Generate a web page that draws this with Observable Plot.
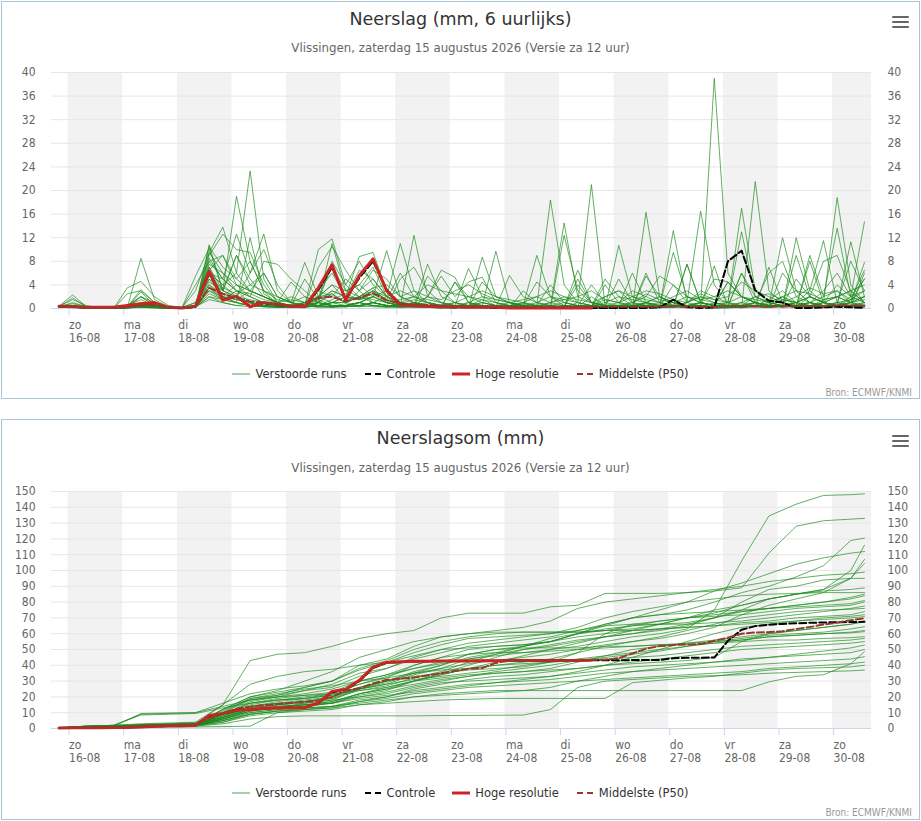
<!DOCTYPE html>
<html lang="nl">
<head>
<meta charset="utf-8">
<script src="https://cdn.jsdelivr.net/npm/d3@7"></script>
<script src="https://cdn.jsdelivr.net/npm/@observablehq/plot@0.6"></script>
<style>
  html, body { margin: 0; padding: 0; background: #fff; }
  body { width: 921px; height: 821px; position: relative; overflow: hidden;
         font-family: "DejaVu Sans", "Liberation Sans", sans-serif; }
  svg { font-stretch: condensed; }
  .panel { position: absolute; left: 1px; width: 919px; box-sizing: border-box; border: 1px solid #aac4d6; background: #fff; }
  .title { position: absolute; left: 0; width: 921px; text-align: center; font-size: 17.5px; line-height: 20px; color: #333; }
  .sub { position: absolute; left: 0; width: 921px; text-align: center; font-size: 11.8px; line-height: 16px; color: #666; }
  .bar { position: absolute; left: 892px; width: 17px; height: 2.4px; background: #666; border-radius: 1px; }
  .chart { position: absolute; left: 0; }
  .legend { position: absolute; left: 0; width: 921px; height: 16px; display: flex; justify-content: center; gap: 17px; font-size: 11.5px; line-height: 16px; color: #333; }
  .item { display: flex; align-items: center; gap: 5px; white-space: nowrap; }
  .item svg { display: block; }
  .bron { position: absolute; right: 9px; font-size: 10px; line-height: 12px; color: #999; font-stretch: condensed; }
</style>
</head>
<body>
<div class="panel" style="top:1px;height:398px"></div>
<div class="panel" style="top:419px;height:401px"></div>

<div class="title" style="top:9px">Neerslag (mm, 6 uurlijks)</div>
<div class="sub" style="top:40px">Vlissingen, zaterdag 15 augustus 2026 (Versie za 12 uur)</div>
<div class="bar" style="top:16px"></div><div class="bar" style="top:21px"></div><div class="bar" style="top:26px"></div>
<div id="c1" class="chart" style="top:60px"></div>
<div id="lg1" class="legend" style="top:366px"></div>
<div class="bron" style="top:387px">Bron: ECMWF/KNMI</div>

<div class="title" style="top:428px">Neerslagsom (mm)</div>
<div class="sub" style="top:460px">Vlissingen, zaterdag 15 augustus 2026 (Versie za 12 uur)</div>
<div class="bar" style="top:435px"></div><div class="bar" style="top:440px"></div><div class="bar" style="top:445px"></div>
<div id="c2" class="chart" style="top:479px"></div>
<div id="lg2" class="legend" style="top:785px"></div>
<div class="bron" style="top:807px">Bron: ECMWF/KNMI</div>

<script>
// ---------- categories / ticks ----------
const dayNames  = ["zo","ma","di","wo","do","vr","za","zo","ma","di","wo","do","vr","za","zo"];
const dayDates  = ["16-08","17-08","18-08","19-08","20-08","21-08","22-08","23-08","24-08","25-08","26-08","27-08","28-08","29-08","30-08"];
const dayStartHours = [0,24,48,72,96,120,144,168,192,216,240,264,288,312,336];
const shadedDays = [[0,24],[48,72],[96,120],[144,168],[192,216],[240,264],[288,312],[336,360]];
const yTicksTop = [0,4,8,12,16,20,24,28,32,36,40];
const yTicksSum = [0,10,20,30,40,50,60,70,80,90,100,110,120,130,140,150];
const legendNames = ["Verstoorde runs","Controle","Hoge resolutie","Middelste (P50)"];

// hours relative to 16-08 00:00 (6-hourly and 12-hourly steps)
const hours6 = [-4,2,8,14,20,26,32,38,44,50,56,62,68,74,80,86,92,98,104,110,116,122,128,134,140,146,152,158,164,170,
  176,182,188,194,200,206,212,218,224,230,236,242,248,254,260,266,272,278,284,290,296,302,308,314,320,326,332,338,344,350];
const hours12 = [-4,8,20,32,44,56,68,80,92,104,116,128,140,152,164,176,188,200,212,224,236,248,260,272,284,296,308,320,332,344,350];

// ---------- 6-hourly precipitation (mm) ----------
const hresTop = [0.4, 0.3,0.2,0.2,0.2, 0.5,0.8,1.0,0.2, 0.1,0.4,6.3,1.4, 2.1,0.3,1.0,0.7, 0.4,0.3,3.5,7.4,
  1.4,5.6,8.4,3.0, 0.6,0.5,0.4,0.3, 0.3,0.2,0.2,0.2, 0.1,0.1,0.1,0.1, 0.1,0.1,0.1];
const controlTop = [0.4, 0.3,0.2,0.2,0.1, 0.4,0.7,0.9,0.2, 0.1,0.3,6.0,1.5, 2.0,0.4,0.9,0.6, 0.4,0.3,3.2,7.0,
  1.6,5.2,8.0,3.2, 0.7,0.5,0.4,0.3, 0.2,0.2,0.2,0.1, 0.1,0.1,0.1,0.1, 0.1,0.1,0.1,0.1, 0.1,0.1,0.1,0.2,
  1.5,0.2,0.1,0.2, 8.0,9.8,3.1,1.3, 1.0,0.1,0.1,0.2, 0.3,0.2,0.1];
const p50Top = [0.3, 0.3,0.1,0.1,0.1, 0.2,0.5,0.6,0.3, 0.1,0.3,3.5,2.5, 1.8,1.2,1.0,0.6, 0.5,0.6,1.8,2.0,
  1.2,1.8,2.6,1.4, 0.8,0.7,0.6,0.5, 0.4,0.4,0.4,0.4, 0.3,0.3,0.3,0.3, 0.3,0.3,0.3,0.3, 0.3,0.3,0.3,0.3,
  0.4,0.3,0.3,0.3, 0.4,0.4,0.4,0.3, 0.4,0.4,0.4,0.4, 0.5,0.5,0.5];
const runsTop = [
 [0.4, 2.3,0.3,0,0, 0.2,0.5,0.3,0, 0,0.2,10.8,3.0, 19.0,8.0,3.0,0.5, 0.2,0.5,2.0,4.0, 1.5,2.0,3.5,1.0, 0.5,0.3,0.2,0.1, 0,0.5,1.5,0.5, 0.2,0,0.3,1.0, 0.5,0.2,0,0, 0,0.3,1.0,2.0, 0.5,0.3,0.2,0, 0.1,0.5,2.0,1.0, 0.5,0.2,0.3,1.5, 2.0,1.0,0.5],
 [0.3, 1.8,0.2,0,0.1, 0.3,3.2,1.0,0.2, 0,0.5,6.0,4.0, 6.0,23.3,5.0,1.0, 0.5,0.2,1.0,2.5, 0.8,3.0,5.0,2.0, 0.5,1.0,0.5,0.2, 0.3,0.2,0.5,0.3, 0,0.1,0.5,0.2, 0.3,4.0,1.0,0.5, 0.2,0.5,0.8,0.3, 0.2,0.3,1.0,0.5, 4.5,2.0,1.0,0.5, 0.3,0.5,1.0,3.0, 6.0,2.0,5.0],
 [0.5, 0.5,0.1,0,0, 0.1,8.5,1.5,0.3, 0,0.2,9.5,13.8, 6.0,3.0,2.0,1.0, 0.5,1.0,0.5,1.0, 2.0,1.5,2.5,1.0, 0.5,0.5,0.3,0.2, 0.2,1.0,0.5,0.2, 0.5,0.2,0,0.1, 0.2,0.3,2.0,0.5, 0.5,1.0,2.5,1.5, 1.0,0.5,0.2,0.3, 0.3,0.1,0.5,1.0, 2.0,0.5,1.0,0.5, 1.0,0.5,0.3],
 [0.3, 0.3,0.2,0.1,0, 0.5,2.0,1.0,0.2, 0.1,0.3,8.0,5.0, 12.6,6.0,12.6,3.0, 1.0,0.5,0.2,0.5, 0.5,1.0,2.0,3.0, 1.0,0.5,0.5,0.3, 0.5,0.3,0.2,0.5, 1.0,0.5,0.2,0.2, 0.1,0,0.5,2.0, 3.0,1.0,0.5,0.2, 0.3,0.2,0.5,0.8, 1.0,0.5,0.3,0.2, 0.5,1.0,2.0,1.0, 0.5,1.5,6.5],
 [0.4, 1.5,0.5,0.1,0, 3.5,4.6,2.0,0.5, 0.2,1.0,7.0,2.0, 1.0,12.0,2.5,1.0, 0.3,0.2,3.0,6.0, 2.0,1.5,3.0,1.5, 0.8,1.5,1.0,0.5, 0.3,0.5,1.0,0.5, 0.3,0.8,0.5,0.2, 0.5,0.2,0.3,0.5, 1.0,0.5,0.5,0.3, 13.2,1.0,2.0,1.0, 0.5,0.3,1.0,0.5, 0.2,0.5,1.0,0.3, 0.5,1.0,2.0],
 [0.3, 0.2,0.1,0,0, 0.2,2.8,0.5,0.1, 0.1,5.5,10.2,3.0, 9.0,4.0,6.0,2.0, 1.0,0.5,1.0,11.0, 3.0,4.0,2.0,1.0, 0.5,0.3,0.2,0.1, 0.5,6.8,2.0,1.0, 0.5,0.3,0.2,0, 0.2,1.0,21.0,0.5, 0.3,0.2,0.5,1.0, 0.5,0.2,0.3,1.0, 0.5,0.3,0.5,1.5, 3.0,1.0,0.5,0.5, 0.3,0.5,1.0],
 [0.3, 0.3,0.2,0.1,0, 0.1,0.5,0.2,0.1, 0,0.3,9.0,12.6, 10.0,9.5,4.0,1.0, 0.5,0.2,0.5,1.0, 2.0,8.8,9.5,3.0, 1.0,0.5,0.3,0.2, 0.2,0.3,0.2,0.1, 0.1,0.2,0.3,0.5, 14.5,2.0,1.0,0.5, 0.3,0.2,0.1,0.3, 0.5,1.0,3.0,2.0, 1.0,17.0,3.0,1.0, 0.5,0.3,0.2,1.0, 2.0,3.0,1.0],
 [0.4, 0.8,0.3,0,0, 0.2,2.0,0.5,0.2, 0.1,4.0,8.0,9.0, 4.0,2.0,8.0,7.5, 5.0,3.0,1.0,0.5, 0.5,1.0,2.0,9.8, 2.0,1.0,0.5,0.3, 0.2,0.1,0.5,9.7, 1.0,0.5,0.3,0.2, 0.1,0.3,0.5,0.2, 0.3,0.5,1.0,2.0, 1.0,0.5,0.3,0.2, 0.1,0.2,0.5,0.3, 0.5,1.0,3.0,11.5, 1.0,0.5,0.5],
 [0.3, 0.2,0.1,0,0, 0.1,0.3,0.2,0, 0,0.5,7.0,3.0, 2.0,6.0,10.0,4.0, 1.0,7.8,2.0,1.0, 0.5,0.3,1.0,2.0, 11.0,3.0,1.0,0.5, 0.3,0.2,8.7,2.0, 1.0,0.3,0.2,0.1, 0.2,0.3,0.5,0.3, 0.2,0.5,0.3,0.2, 0.5,7.5,1.0,0.5, 0.3,0.2,0.3,0.5, 12.0,3.0,1.0,0.5, 0.5,0.3,0.2],
 [0.5, 0.4,0.2,0.1,0, 0.3,1.0,0.3,0.1, 0,0.2,6.0,5.0, 3.0,2.0,1.0,0.5, 0.3,0.5,10.0,11.8, 4.0,2.0,1.0,0.5, 0.5,12.4,2.0,1.0, 0.5,0.3,0.2,0.3, 0.5,1.0,0.5,0.2, 0.3,0.2,0.1,0.2, 0.3,0.2,16.3,2.0, 1.0,0.5,0.3,0.2, 0.3,0.5,1.0,0.5, 0.3,0.2,0.5,1.0, 18.8,4.0,1.0],
 [0.3, 0.3,0.1,0,0, 0.2,0.5,0.3,0.1, 0,0.3,5.0,2.0, 1.0,0.5,0.3,0.2, 0.5,1.0,0.5,0.3, 0.5,1.0,0.5,0.3, 0.2,0.3,0.5,0.3, 0.2,0.5,1.0,0.5, 0.3,0.2,0.5,18.4, 4.0,1.0,0.5,0.3, 0.2,0.5,1.0,0.5, 0.3,0.2,0.5,39.0, 6.0,2.0,1.0,0.5, 0.3,0.5,1.0,2.0, 3.0,1.0,0.5],
 [0.4, 0.5,0.3,0.1,0, 0.2,0.4,0.2,0.1, 0.1,1.0,4.0,2.0, 1.5,3.0,6.0,2.0, 1.0,0.5,7.0,10.5, 6.5,3.0,1.0,0.5, 0.3,0.5,7.5,2.0, 1.0,0.5,0.3,0.2, 0.1,0.5,9.0,2.0, 0.5,0.3,0.2,0.1, 10.7,2.0,1.0,0.5, 0.3,1.0,16.5,4.0, 1.0,0.5,0.3,0.2, 0.5,1.0,2.0,1.0, 0.5,2.0,14.7],
 [0.3, 0.2,0.1,0,0, 0.5,1.5,0.5,0.2, 0,0.2,3.0,1.5, 2.0,1.0,0.5,0.3, 0.2,0.3,1.5,3.0, 2.0,6.5,5.0,2.0, 1.0,0.5,2.0,6.5, 5.3,1.0,0.5,0.3, 5.6,2.0,1.0,0.5, 0.3,0.2,0.5,0.3, 0.5,6.0,1.0,0.5, 0.3,0.5,1.0,0.5, 0.3,0.2,21.5,3.0, 1.0,0.5,0.3,0.5, 1.0,1.5,3.0],
 [0.4, 0.3,0.2,0,0, 0.3,0.8,0.4,0.1, 0,0.3,10.5,7.0, 5.0,3.0,2.0,1.0, 0.5,0.3,0.5,1.0, 1.0,2.0,3.0,1.5, 6.0,2.0,1.0,0.5, 0.3,0.5,0.3,0.2, 0.3,0.2,0.3,0.5, 0.2,6.5,1.0,0.5, 0.3,0.2,0.5,0.3, 0.5,0.3,0.2,0.5, 1.0,13.0,2.0,1.0, 0.5,0.3,9.0,2.0, 13.6,2.0,1.0],
 [0.3, 0.3,0.1,0,0, 0.2,0.6,0.3,0.1, 0,0.2,2.0,1.0, 0.5,0.8,0.5,0.3, 0.2,0.5,0.3,0.2, 0.3,0.5,1.0,0.5, 0.3,0.2,0.5,0.3, 0.2,0.3,0.5,0.3, 0.2,0.1,0.2,0.3, 0.2,0.5,0.3,0.2, 0.3,0.5,0.2,0.3, 0.5,0.3,0.5,7.2, 0.3,0.2,0.3,0.2, 0.3,0.5,0.3,0.2, 0.3,0.5,0.3],
 [0.4, 0.5,0.3,0.1,0, 2.5,3.0,1.0,0.2, 0.1,0.5,6.5,9.0, 5.0,8.0,3.0,2.0, 1.0,0.5,2.0,7.0, 3.0,4.0,7.0,2.0, 1.0,0.5,0.3,0.2, 4.5,2.0,1.0,0.5, 0.3,0.5,4.5,2.0, 1.0,0.5,0.3,0.2, 0.5,1.0,2.0,5.5, 4.0,2.0,1.0,0.5, 0.3,0.5,1.0,0.5, 2.0,1.0,0.5,0.3, 0.5,1.0,5.0],
 [0.3, 0.2,0.1,0,0, 0.1,0.3,0.2,0, 0,0.3,4.5,3.0, 9.0,5.0,2.0,1.0, 4.5,2.0,1.0,0.5, 0.5,1.0,2.0,1.0, 0.5,0.3,0.2,0.1, 0.1,0.2,0.3,0.2, 0.1,3.0,1.0,0.5, 0.3,0.5,4.0,1.0, 0.5,0.3,0.2,0.1, 0.3,0.5,1.0,0.5, 4.5,2.0,1.0,0.5, 0.3,12.0,3.0,1.0, 0.5,1.0,7.8],
 [0.5, 0.3,0.2,0,0, 0.2,0.5,0.3,0.1, 0,0.3,8.5,5.0, 3.0,2.0,1.0,0.5, 0.5,1.0,3.0,2.0, 5.0,3.0,6.5,5.0, 2.0,1.0,0.5,0.3, 0.5,0.3,0.2,0.1, 0.5,0.3,0.2,0.1, 12.4,3.0,1.0,0.5, 0.3,0.2,0.5,0.3, 0.2,7.5,1.0,0.5, 0.3,0.5,0.3,7.0, 1.0,0.5,0.3,0.2, 0.5,11.3,2.0],
 [0.3, 0.2,0.1,0,0, 0.1,0.2,0.1,0, 0,0.2,3.5,1.5, 1.0,0.5,0.3,0.2, 0.2,0.5,1.0,0.5, 0.3,0.5,1.0,0.5, 0.5,1.0,0.5,0.3, 4.5,1.0,0.5,0.3, 0.2,0.5,0.3,0.2, 0.5,0.3,0.2,4.0, 1.0,0.5,0.3,0.2, 0.3,0.5,0.3,0.2, 0.5,1.0,0.5,0.3, 0.5,0.3,0.5,0.3, 0.5,0.3,0.5],
 [0.4, 0.4,0.2,0,0, 0.3,1.0,0.5,0.2, 0.2,0.5,5.5,3.0, 2.0,1.5,1.0,0.5, 0.3,0.5,1.0,8.0, 4.0,8.0,4.0,2.0, 1.0,0.5,2.0,5.5, 2.0,4.5,5.3,1.0, 0.5,0.3,0.2,0.1, 0.2,0.5,0.3,0.2, 0.5,0.3,0.2,0.5, 9.5,2.0,1.0,0.5, 0.3,0.2,0.5,0.3, 0.5,0.3,2.0,8.0, 9.0,3.0,1.0],
 [0.3, 0.3,0.2,0.1,0, 0.1,0.4,0.2,0.1, 0,0.3,7.5,6.0, 4.0,3.0,2.0,1.0, 0.5,0.3,0.5,0.3, 0.3,0.5,1.0,0.5, 5.0,7.0,3.0,1.0, 0.5,0.3,0.2,0.2, 0.3,0.5,0.3,0.2, 0.3,5.0,1.0,0.5, 0.3,0.2,5.5,2.0, 1.0,0.5,0.3,0.2, 0.2,0.3,0.5,0.3, 6.0,3.0,1.0,0.5, 0.5,1.0,2.0],
 [0.4, 0.3,0.1,0,0, 0.2,0.5,0.2,0.1, 0,0.3,6.0,4.0, 2.0,1.0,0.8,0.5, 0.3,0.2,0.5,1.0, 1.0,0.5,1.0,0.5, 0.5,0.3,0.2,0.5, 1.0,0.5,0.3,0.2, 0.3,0.2,0.5,0.3, 0.3,0.2,0.5,0.3, 5.0,1.0,0.5,0.3, 0.3,0.5,1.0,5.0, 4.5,2.0,1.0,0.5, 0.5,9.0,2.0,1.0, 0.5,0.3,6.0],
 [0.3, 0.2,0.1,0,0, 0.2,0.3,0.2,0, 0,0.2,3.0,2.0, 1.5,1.0,0.5,0.3, 0.2,0.3,0.5,0.3, 0.5,1.0,0.5,0.3, 0.2,0.3,5.5,3.0, 1.0,0.5,0.3,0.2, 0.2,0.3,0.2,0.5, 1.0,0.5,0.3,0.2, 0.3,0.5,0.3,0.2, 0.5,0.3,0.5,0.3, 0.5,6.0,2.0,1.0, 0.5,0.3,0.5,0.3, 1.0,8.0,3.0],
 [0.5, 0.3,0.2,0,0, 0.3,2.0,0.5,0.2, 0.1,3.0,9.5,6.0, 3.0,1.0,0.5,0.3, 0.5,1.0,2.0,4.0, 3.0,2.0,1.5,1.0, 0.5,1.0,0.5,0.3, 0.3,0.5,0.3,0.2, 0.2,0.3,0.5,0.3, 0.3,0.2,0.5,0.3, 0.5,0.3,0.2,0.3, 4.0,1.0,0.5,0.3, 0.3,0.5,1.0,6.0, 8.0,2.0,1.0,0.5, 0.3,0.5,1.0],
 [0.3, 1.0,0.3,0,0, 0.2,0.5,0.3,0.1, 0,0.2,2.5,1.5, 1.0,0.5,0.3,0.2, 0.3,0.5,1.0,0.5, 0.3,0.5,0.3,0.2, 0.5,0.3,0.2,0.1, 0.3,0.5,0.5,0.3, 0.5,0.3,0.5,4.0, 1.0,0.5,0.3,5.0, 2.0,0.5,0.3,0.2, 0.3,0.5,0.5,0.3, 0.5,0.3,0.5,0.3, 0.5,5.0,2.0,1.0, 0.5,0.3,0.5],
 [0.4, 0.3,0.1,0,0, 0.3,0.5,0.3,0.1, 0,0.3,4.0,2.5, 1.5,1.0,0.5,0.3, 0.5,5.0,1.5,0.5, 0.5,0.3,0.5,0.3, 0.3,0.5,1.0,0.5, 0.3,0.2,4.5,2.0, 1.0,0.5,0.3,0.2, 0.5,0.3,0.2,0.3, 0.5,0.3,6.0,1.0, 0.5,0.3,0.2,0.3, 0.3,6.0,1.0,0.5, 0.3,0.5,8.0,1.0, 0.5,0.3,0.5],
 [0.3, 0.2,0.1,0,0, 0.1,0.3,0.2,0.1, 0,0.5,5.0,3.5, 2.5,4.0,3.0,1.5, 1.0,2.0,1.0,3.0, 2.0,1.5,3.0,2.0, 3.0,2.0,4.0,3.0, 2.5,2.0,3.0,2.0, 1.5,1.0,2.0,3.0, 2.0,1.5,1.0,2.0, 3.0,2.0,1.5,1.0, 2.0,3.0,1.5,2.0, 3.0,2.0,1.5,1.0, 2.0,3.0,2.5,1.5, 2.0,3.0,4.0],
 [0.4, 0.3,0.2,0,0, 0.2,0.5,0.3,0.1, 0.1,0.3,3.5,2.0, 4.0,3.0,2.0,1.0, 1.5,1.0,2.0,2.5, 1.0,2.0,3.5,4.0, 2.0,3.0,2.0,1.5, 3.0,4.0,2.5,1.5, 1.0,1.5,2.0,1.0, 1.5,2.0,3.0,1.5, 1.0,2.0,3.0,2.5, 1.5,1.0,2.0,1.5, 2.0,4.5,3.0,2.0, 1.0,2.0,3.5,2.5, 3.0,1.5,2.0],
 [0.3, 0.2,0.1,0,0, 0.2,0.3,0.2,0.1, 0,0.2,2.0,1.5, 3.0,2.5,1.5,1.0, 2.0,1.0,0.5,1.5, 2.5,1.5,2.0,1.0, 1.5,2.0,1.0,0.5, 1.0,2.0,1.5,1.0, 0.5,1.0,0.5,1.0, 2.0,1.0,0.5,1.5, 1.0,3.0,2.0,1.0, 0.5,1.0,2.5,1.5, 1.0,2.0,1.0,0.5, 1.5,1.0,2.0,1.0, 4.0,2.0,3.0],
 [0.4, 0.3,0.2,0.1,0, 0.1,0.2,0.1,0, 0,0.3,1.5,1.0, 0.5,0.3,0.5,0.3, 0.2,0.5,0.3,0.2, 0.5,1.0,0.5,0.3, 1.0,2.0,1.5,1.0, 0.5,1.0,2.0,1.5, 1.0,0.5,1.0,2.0, 1.5,1.0,0.5,1.0, 2.0,1.5,1.0,0.5, 1.0,2.0,1.5,1.0, 0.5,1.0,2.0,2.5, 1.5,1.0,0.5,1.0, 2.0,1.0,1.5]
];

// ---------- accumulated precipitation (mm) ----------
const hresSum = [0.3, 0.4,0.5,0.5,0.6, 0.7,1.0,1.5,1.7, 1.7,2.0,8.3,9.5, 11.7,12.0,12.8,13.0, 13.1,13.2,16.2,23.5,
  24.9,30.5,38.8,41.8, 42.2,42.5,42.6,42.7, 42.8,42.8,42.9,42.9, 43.0,43.0,43.0,43.1, 43.1,43.1,43.2];
const controlSum = [0.3, 0.4,0.5,0.5,0.6, 0.7,1.0,1.4,1.6, 1.7,2.0,8.0,9.4, 11.5,11.9,12.7,13.0, 13.1,13.2,16.0,23.0,
  24.6,30.0,38.2,41.5, 42.0,42.4,42.6,42.7, 42.8,42.8,42.9,42.9, 43.0,43.0,43.0,43.1, 43.1,43.1,43.2,43.2,
  43.2,43.3,43.3,43.4, 44.5,44.7,44.8,44.9, 55.5,62.5,64.8,65.7, 66.2,66.6,66.9,67.1, 67.3,67.4,67.5];
const p50Sum = [0.3, 0.5,0.6,0.7,0.8, 1.0,1.5,2.0,2.2, 2.3,2.6,6.5,9.5, 12.5,13.8,14.8,15.5, 16.2,16.8,17.8,20.0,
  24.0,25.5,28.5,30.8, 31.5,32.3,33.5,35.0, 36.5,37.8,38.2,41.5, 43.0,43.1,43.2,43.3, 43.3,43.4,43.4,43.5,
  44.5,47.5,50.5,52.2, 52.8,53.2,53.5,55.5, 57.5,60.0,60.8,61.0, 61.5,63.0,64.2,65.8, 67.0,68.5,69.8];
const runsSum = [
 [0.3, 1.0,1.5, 2.0,2.2, 2.5,12, 18,20, 22,25, 30,34, 38,41, 44,46, 48,50, 52,55, 58,60, 63,75, 106,134.5, 142,147.5, 148,148.5],
 [0.3, 1.5,2, 3,3.5, 4,15, 43,47, 48,52, 57,60, 62,70, 73,73, 73,77, 78,85.5, 85.5,85.5, 86,87, 89,111, 128,131.5, 132.5,133],
 [0.3, 1,1.2, 1.8,2, 2.3,8, 14,17, 19,22, 28,33, 38,42, 47,50, 52,55, 60,66, 70,72, 75,80, 86,90, 96,103, 119,120.5],
 [0.3, 0.8,1.0, 1.5,1.8, 2,6, 12,14, 15,17, 22,25, 30,35, 40,45, 50,52, 55,58, 60,62, 65,70, 75,82, 85,88, 100,116],
 [0.4, 1.5,2, 9,9.5, 10,16, 22,25, 27,30, 37,42, 48,53, 57,58, 59,60, 62,65, 70,75, 80,87, 92,98, 104,108, 111,112],
 [0.3, 1,1.3, 2,2.3, 2.8,7, 12,15, 17,20, 25,30, 33,35, 37,38, 39,42, 48,60, 66,68, 70,73, 78,82, 85,88, 95,107],
 [0.3, 1,1.2, 1.5,1.7, 2,9, 16,18, 19,21, 26,30, 35,38, 41,43, 45,47, 50,53, 55,57, 60,64, 72,78, 82,86, 95,104.5],
 [0.4, 1.2,1.5, 2,2.5, 3,11, 19,21, 24,28, 35,38, 45,50, 51,52, 53,55, 60,63, 65,66, 67,70, 80,88, 90,94, 95,95],
 [0.3, 1,1.2, 1.5,1.8, 2,7, 14,16, 18,20, 26,30, 36,40, 45,48, 52,55, 58,60, 62,66, 70,75, 78,82, 85,87, 88,89],
 [0.3, 0.8,1, 1.5,1.8, 2,6, 11,13, 16,18, 25,28, 34,38, 44,47, 50,53, 56,58, 60,63, 66,70, 74,76, 78,80, 83,85],
 [0.4, 1.5,1.8, 2.5,3, 3.5,10, 18,21, 26,30, 38,43, 50,55, 58,60, 61,61, 61,62, 63,66, 70,72, 74,76, 78,80, 82,84],
 [0.3, 1,1.2, 1.8,2, 2.5,9, 15,18, 20,22, 28,32, 40,45, 50,52, 53,55, 60,62, 65,68, 70,71, 72,74, 76,77, 78,80],
 [0.3, 1.2,1.5, 2,2.2, 2.5,8, 13,15, 17,19, 24,27, 32,36, 42,47, 52,57, 60,65, 66,66, 66,67, 68,70, 72,74, 76,77.5],
 [0.3, 0.8,1, 1.2,1.5, 1.8,5, 10,12, 14,16, 21,24, 30,34, 38,42, 46,50, 54,58, 62,63, 64,65, 67,68, 70,71, 72,74],
 [0.4, 1.5,2, 2.5,3, 3.5,12, 20,23, 26,30, 40,44, 52,58, 60,61, 61,61, 61,62, 62,63, 64,65, 66,67, 68,69, 70,70.8],
 [0.3, 1,1.2, 1.5,2, 2.5,7, 12,14, 15,16, 22,26, 30,32, 34,35, 36,38, 42,46, 50,52, 54,56, 58,60, 62,64, 66,67.6],
 [0.3, 0.8,1, 1.5,1.8, 2,6, 11,13, 15,17, 22,25, 28,31, 33,36, 38,40, 43,45, 47,49, 52,55, 57,59, 60,61, 63,64.4],
 [0.3, 1,1.3, 2,2.3, 2.6,8, 14,16, 17,19, 25,29, 35,40, 47,50, 51,51, 51,52, 52,53, 54,55, 56,58, 59,60, 60.5,61.3],
 [0.4, 1.2,1.5, 2,2.3, 2.6,9, 16,19, 21,23, 30,34, 40,45, 47,48, 48,49, 50,51, 52,53, 53,54, 55,56, 56,57, 57.5,58.1],
 [0.3, 0.8,1, 1.2,1.5, 2,5, 9,11, 12,13, 17,20, 25,28, 31,33, 34,36, 38,40, 42,44, 46,48, 50,51, 52,53, 54,55],
 [0.3, 1,1.2, 1.5,1.8, 2,7, 13,15, 16,18, 20,22, 26,29, 30,31, 32,33, 35,37, 39,40, 41,42, 43,45, 47,49, 51,52.8],
 [0.3, 0.8,1, 1.3,1.5, 1.8,4, 8,10, 11,12, 15,17, 20,22, 23,24, 24,24, 24,24, 24,24, 24,24, 24,29.5, 33,34, 41,48.6],
 [0.3, 1,1.2, 1.5,1.8, 2,6, 10,12, 13,14, 18,20, 24,26, 28,29, 30,31, 33,35, 36,37, 38,39, 40,41, 42,43, 44,45.4],
 [0.3, 0.8,1, 1.2,1.4, 1.6,4, 9,11, 12,13, 15,16, 17,18, 18.5,19, 19,19, 19,19, 29,30.5, 32,33, 35,37, 38,38.5, 39,40],
 [0.3, 0.5,0.7, 1,1.2, 1.5,3, 6,7.5, 8,8, 8,8, 8,8.2, 8.3,8.4, 8.5,12, 26,30, 31,32, 33,33.5, 34,35, 35.5,36, 36.5,37],
 [0.2, 0.4,0.5, 0.6,0.8, 1,1.2, 1.5,10, 12,14, 17,19, 22,24, 26,27, 28,29, 30,31, 32,33, 34,35, 36,38, 39,40, 41,42],
 [0.3, 1.2,1.5, 2,2.5, 3,15, 28,33, 36,37.5, 40,42, 46,50, 54,56, 58,60, 64,70, 74,77, 80,82, 84,85, 85.5,86, 86,86],
 [0.3, 1,1.3, 9.5,9.8, 10,14, 18,20, 21,22, 24,26, 30,34, 38,40, 42,44, 48,52, 55,58, 62,66, 70,72, 74,75, 75.5,76],
 [0.4, 1.5,2, 8.5,9, 9.5,13, 16,18, 19,21, 25,28, 31,33, 35,37, 40,42, 44,46, 48,50, 52,54, 56,58, 59,60, 61,62],
 [0.3, 0.8,1, 1.2,1.5, 2,5, 9,11, 13,14, 16,18, 20,21, 22,23, 24,26, 30,33, 36,38, 40,42, 44,45, 46,47, 48,50],
 [0.3, 1,1.2, 1.5,2, 2.5,6, 11,13, 14,16, 20,23, 27,30, 33,35, 36,37, 38,40, 41,42, 43,45, 55,60, 62,64, 66,68],
 [0.3, 1,1.2, 1.5,1.8, 2.2,9, 17,20, 24,26, 33,38, 44,48, 52,54, 56,58, 62,66, 70,72, 73,74, 75,76, 77,78, 79,81],
 [0.3, 0.8,1.1, 1.4,1.7, 2,7, 12,14, 15,16, 19,21, 23,25, 27,29, 31,33, 36,40, 45,50, 55,60, 64,66, 68,70, 71,72],
 [0.3, 1.2,1.5, 2,2.3, 2.6,10, 19,22, 25,27, 30,32, 35,37, 38,40, 41,42, 43,44, 45,46, 48,50, 52,53, 54,55, 56,57],
 [0.4, 1.3,1.6, 2.2,2.6, 3,12, 20,24, 30,36, 45,50, 55,58, 60,62, 64,68, 76,80, 82,84, 86,88, 90,93, 95,97, 98,99]
];

// ---------- sanity check ----------
runsTop.forEach((r, i) => { if (r.length !== hours6.length) throw new Error("runsTop " + i + " len " + r.length); });
runsSum.forEach((r, i) => { if (r.length !== hours12.length) throw new Error("runsSum " + i + " len " + r.length); });
[controlTop, p50Top, controlSum, p50Sum].forEach((r, i) => { if (r.length !== 60) throw new Error("series " + i + " len " + r.length); });

// ---------- drawing ----------
const FONT = '"DejaVu Sans Condensed", "DejaVu Sans", "Liberation Sans Narrow", sans-serif';
const COLORS = {runs: "#1a8a1a", control: "#000000", hres: "#cc2424", p50: "#953a2c", runsLegend: "#aacdaa"};
const DASH = "7,3";
const X_DOMAIN = [-7.3, 353.1];
const bandRows = shadedDays.map(([s, e]) => ({s, e}));
const dayLabel = h => { const i = dayStartHours.indexOf(h); return dayNames[i] + "\n" + dayDates[i]; };

function series(values, hours) { return values.map((v, i) => ({h: hours[i], v})); }

function makeChart({runs, runHours, control, hres, p50, yTicks, height, plotH}) {
  const yMax = yTicks[yTicks.length - 1];
  const runRows = runs.flatMap((vals, m) => vals.map((v, i) => ({h: runHours[i], v, m})));
  return Plot.plot({
    width: 921, height,
    marginTop: 12, marginBottom: height - 12 - plotH, marginLeft: 51, marginRight: 50,
    x: {type: "linear", domain: X_DOMAIN},
    y: {domain: [0, yMax]},
    style: {fontFamily: FONT, fontSize: "12px", background: "transparent", overflow: "visible"},
    marks: [
      Plot.rect(bandRows, {x1: "s", x2: "e", y1: 0, y2: yMax, fill: "#f2f2f2", clip: true}),
      Plot.ruleY(yTicks, {stroke: "#e6e6e6", strokeWidth: 1}),
      Plot.ruleY([0], {stroke: "#ccd6eb", strokeWidth: 1}),
      Plot.axisX({ticks: dayStartHours, tickSize: 7, tickPadding: 4, stroke: "#ccd6eb", fill: "#666",
                  textAnchor: "start", dx: 1, lineHeight: 1.1, fontSize: 12, tickFormat: dayLabel, label: null}),
      Plot.axisY({anchor: "left", ticks: yTicks, tickSize: 0, tickPadding: 16, fill: "#666", fontSize: 12, label: null}),
      Plot.axisY({anchor: "right", ticks: yTicks, tickSize: 0, tickPadding: 16, fill: "#666", fontSize: 12, label: null}),
      Plot.line(runRows, {x: "h", y: "v", z: "m", stroke: COLORS.runs, strokeOpacity: 0.68, strokeWidth: 1}),
      Plot.line(series(control, hours6), {x: "h", y: "v", stroke: COLORS.control, strokeWidth: 2, strokeDasharray: DASH}),
      Plot.line(series(hres, hours6), {x: "h", y: "v", stroke: COLORS.hres, strokeWidth: 3}),
      Plot.line(series(p50, hours6), {x: "h", y: "v", stroke: COLORS.p50, strokeWidth: 2, strokeDasharray: DASH})
    ]
  });
}

document.getElementById("c1").append(makeChart({
  runs: runsTop, runHours: hours6, control: controlTop, hres: hresTop, p50: p50Top,
  yTicks: yTicksTop, height: 290, plotH: 236
}));
document.getElementById("c2").append(makeChart({
  runs: runsSum, runHours: hours12, control: controlSum, hres: hresSum, p50: p50Sum,
  yTicks: yTicksSum, height: 291, plotH: 237
}));

function legend(el) {
  const sw = [
    `<line x1="0" x2="18" y1="5" y2="5" stroke="${COLORS.runsLegend}" stroke-width="2"/>`,
    `<line x1="1" x2="17" y1="5" y2="5" stroke="${COLORS.control}" stroke-width="2" stroke-dasharray="6,4"/>`,
    `<line x1="0" x2="18" y1="5" y2="5" stroke="${COLORS.hres}" stroke-width="3"/>`,
    `<line x1="1" x2="17" y1="5" y2="5" stroke="${COLORS.p50}" stroke-width="2" stroke-dasharray="6,4"/>`
  ];
  el.innerHTML = legendNames.map((n, i) =>
    `<span class="item"><svg width="18" height="10">${sw[i]}</svg><span>${n}</span></span>`).join("");
}
legend(document.getElementById("lg1"));
legend(document.getElementById("lg2"));
</script>
</body>
</html>
